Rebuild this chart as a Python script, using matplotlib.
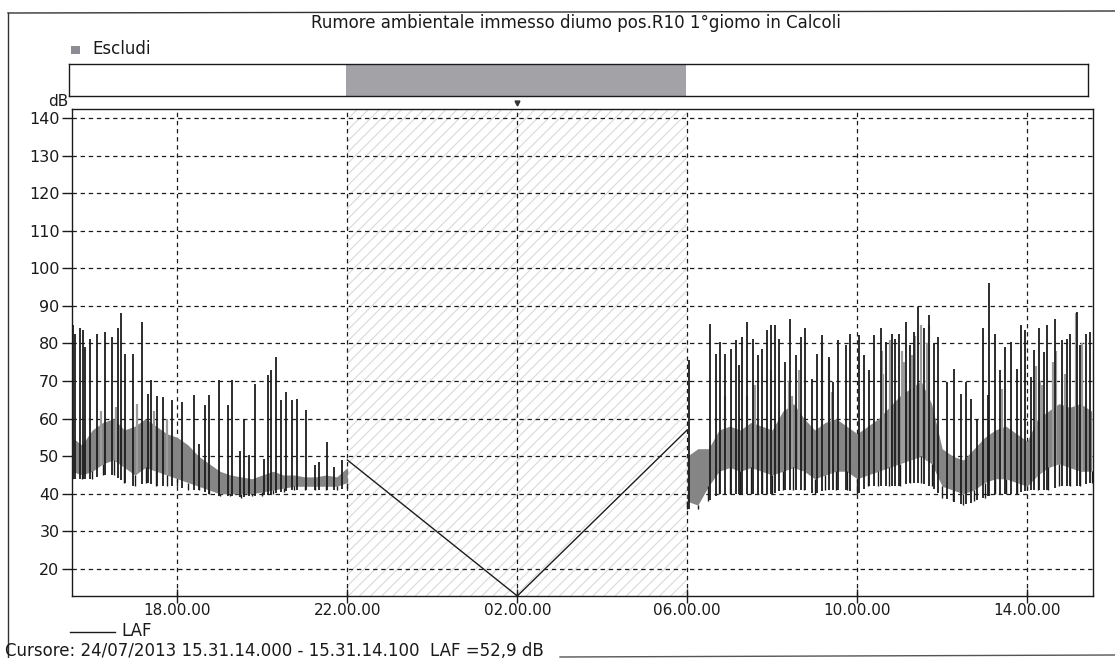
import numpy as np
import matplotlib
matplotlib.use("Agg")
import matplotlib.pyplot as plt
from matplotlib.lines import Line2D
from matplotlib.patches import Rectangle

plt.rcParams['font.family'] = ['DejaVu Sans']
plt.rcParams['hatch.linewidth'] = 0.8

# ---------------- data ----------------
title = "Rumore ambientale immesso diumo pos.R10 1°giomo in Calcoli"
xtick_pos = [18, 22, 26, 30, 34, 38]
xtick_labels = ["18.00.00", "22.00.00", "02.00.00", "06.00.00", "10.00.00", "14.00.00"]
ytick_vals = [20, 30, 40, 50, 60, 70, 80, 90, 100, 110, 120, 130, 140]
excl_start, excl_end = 22.0, 30.0

# body (dense gray band) of LAF, left part (hours)
left_t  = [15.52, 15.75, 16.0, 16.25, 16.5, 16.75, 17.0, 17.25, 17.5, 17.75, 18.0, 18.25, 18.5,
           18.75, 19.0, 19.25, 19.5, 19.75, 20.0, 20.25, 20.5, 20.75, 21.0, 21.25, 21.5, 21.75, 22.0]
left_lo = [46, 45, 46, 48, 49, 47, 45, 47, 46, 45, 44, 43, 42,
           41, 40, 40, 40, 40, 40.5, 41, 41.5, 42, 42, 42, 42, 42, 43]
left_hi = [55, 53, 57, 59, 60, 57, 58, 60, 58, 56, 55, 53, 50,
           48, 46, 45, 44.5, 44, 45, 46, 45, 45, 44.5, 44.5, 45, 44.5, 47]
left_floor = [44, 44, 44, 45, 45, 43, 42, 43, 42, 42, 42, 41, 41,
              40, 39.5, 39.5, 39, 39.5, 39.5, 40, 40.5, 41, 41, 41, 41, 41, 41.5]

right_t  = [30.0, 30.25, 30.5, 30.75, 31.0, 31.25, 31.5, 31.75, 32.0, 32.25, 32.5, 32.75, 33.0,
            33.25, 33.5, 33.75, 34.0, 34.25, 34.5, 34.75, 35.0, 35.25, 35.5, 35.75, 36.0, 36.25,
            36.5, 36.75, 37.0, 37.25, 37.5, 37.75, 38.0, 38.25, 38.5, 38.75, 39.0, 39.25, 39.52]
right_lo = [38, 37, 42, 46, 47, 46, 47, 46, 45, 46, 47, 46, 44,
            45, 46, 46, 44, 45, 46, 47, 48, 49, 50, 48, 42, 41,
            40, 41, 43, 44, 44, 43, 42, 45, 47, 48, 47, 46, 46]
right_hi = [50, 52, 52, 57, 58, 57, 59, 58, 57, 62, 64, 60, 57,
            59, 60, 58, 56, 58, 60, 63, 66, 68, 70, 64, 52, 50,
            49, 52, 55, 57, 58, 56, 54, 60, 62, 64, 63, 64, 62]
right_floor = [36, 36, 38, 40, 40, 40, 40, 40, 40, 41, 41, 41, 40,
               41, 41, 41, 40, 42, 42, 42, 42, 43, 43, 42, 39, 38,
               37, 38, 39, 40, 40, 40, 41, 41, 41, 42, 42, 42, 43]

# dark spikes (time, peak dB)
spike_t = [15.54, 15.60, 15.70, 15.78, 15.83, 15.95, 16.11, 16.29, 16.45, 16.61, 16.67, 16.76,
           16.96, 17.17, 17.30, 17.38, 17.51, 17.67, 17.87, 18.12, 18.39, 18.52, 18.64, 18.75,
           18.98, 19.18, 19.28, 19.48, 19.56, 19.68, 19.83, 20.03, 20.13, 20.21, 20.33, 20.45,
           20.56, 20.69, 20.82, 21.02, 21.23, 21.33, 21.53, 21.69, 21.88,
           30.05, 30.53, 30.67, 30.77, 30.89, 31.02, 31.14, 31.22, 31.29, 31.41, 31.55, 31.66,
           31.76, 31.88, 31.98, 32.06, 32.17, 32.30, 32.43, 32.55, 32.67, 32.78, 32.94, 33.06,
           33.18, 33.33, 33.43, 33.55, 33.73, 33.84, 34.04, 34.16, 34.27, 34.39, 34.55, 34.67,
           34.81, 34.90, 34.98, 35.14, 35.25, 35.33, 35.44, 35.57, 35.70, 35.80, 35.91, 36.12,
           36.27, 36.45, 36.55, 36.67, 36.82, 36.96, 37.08, 37.11, 37.24, 37.37, 37.49, 37.61,
           37.76, 37.86, 37.96, 38.08, 38.16, 38.27, 38.39, 38.47, 38.65, 38.81, 38.94, 39.02,
           39.18, 39.25, 39.39, 39.49]
spike_v = [84.8, 82.6, 84.0, 83.5, 79.0, 81.3, 82.6, 83.1, 81.7, 84.0, 88.0, 77.3,
           77.3, 85.7, 66.6, 70.2, 66.0, 65.8, 64.9, 64.4, 66.2, 53.3, 63.6, 66.2,
           70.2, 63.6, 70.2, 51.5, 59.9, 50.2, 69.3, 49.3, 71.5, 72.9, 76.4, 64.9,
           67.1, 64.9, 65.3, 62.2, 47.6, 48.5, 53.8, 47.2, 49.0,
           75.5, 85.3, 77.3, 80.4, 77.3, 78.6, 80.9, 74.2, 81.7, 85.7, 81.3, 76.9,
           78.6, 83.5, 84.8, 84.8, 81.3, 75.1, 86.6, 76.9, 81.7, 84.0, 70.6, 77.3,
           82.2, 76.4, 69.8, 80.9, 79.5, 82.6, 82.2, 76.9, 72.9, 82.2, 84.0, 80.4,
           82.6, 81.3, 82.6, 85.7, 79.5, 83.1, 89.7, 84.0, 87.5, 80.0, 81.7, 69.8,
           73.3, 66.6, 69.8, 65.3, 60.0, 84.0, 66.2, 96.0, 82.6, 72.9, 79.1, 80.4,
           73.3, 84.8, 83.5, 71.1, 78.2, 84.0, 77.7, 84.8, 86.6, 80.9, 81.3, 82.6,
           88.4, 79.5, 82.6, 83.1]

# lighter gray peaks inside the body
gpeak_t = [16.2, 16.55, 17.05, 17.45, 17.75, 30.9, 31.41, 31.57, 31.6, 31.96, 32.4, 32.47,
           32.63, 33.18, 33.33, 33.4, 34.59, 34.6, 34.78, 35.06, 35.1, 35.3, 35.37, 35.5,
           35.65, 35.69, 37.4, 38.2, 38.3, 38.35, 38.6, 38.67, 38.9, 39.15, 39.3]
gpeak_v = [62, 63, 64, 62, 60, 66, 66, 69, 69, 73, 70, 66,
           73, 80, 76, 67, 78, 72, 81, 78, 75, 77, 82, 85,
           80, 85, 68, 74, 70, 69, 75, 78, 72, 88, 80]

# LAF line across the excluded night period
gap_t = [22.0, 26.0, 30.0]
gap_v = [49.0, 12.8, 57.0]

legend_label = "LAF"
cursor_text = "Cursore: 24/07/2013 15.31.14.000 - 15.31.14.100  LAF =52,9 dB"
excl_label = "Escludi"

# ---------------- figure ----------------
W, H = 1115, 658
fig = plt.figure(figsize=(W / 100, H / 100), dpi=100)
fig.patch.set_facecolor('white')

def box(x0, y0, x1, y1):
    return [x0 / W, 1 - y1 / H, (x1 - x0) / W, (y1 - y0) / H]

TXT = '#1a1a1a'
XMIN, XMAX = 15.52, 39.55
ax = fig.add_axes(box(72, 109, 1093, 596))
ax.set_xlim(XMIN, XMAX)
ax.set_ylim(12.8, 142.4)

# hatched exclusion region
ax.axvspan(excl_start, excl_end, facecolor='none', edgecolor='#d9d9d9', hatch='///',
           linewidth=0, zorder=0)

# grid
for yv in ytick_vals:
    ax.axhline(yv, color=TXT, lw=0.9, ls=(0, (3.5, 3)), zorder=1)
for xv in xtick_pos:
    ax.axvline(xv, color=TXT, lw=0.9, ls=(0, (3.5, 3)), zorder=1)

line_dark = '#1c1c1c'
body_col = '#858585'

# body
for tt, lo, hi in ((left_t, left_lo, left_hi), (right_t, right_lo, right_hi)):
    ax.fill_between(tt, lo, hi, color=body_col, lw=0, zorder=3)

def seg_interp(t, left_arr, right_arr):
    if t <= 22.0:
        return np.interp(t, left_t, left_arr)
    return np.interp(t, right_t, right_arr)

# gray peaks
ax.vlines(gpeak_t, [seg_interp(t, left_lo, right_lo) for t in gpeak_t], gpeak_v,
          color='#9c9c9c', lw=1.6, zorder=3)
# spikes (from floor to peak)
ax.vlines(spike_t, [seg_interp(t, left_floor, right_floor) for t in spike_t], spike_v,
          color=line_dark, lw=1.3, zorder=4)
# floor dips along the body
for tt, fl, lo in ((left_t, left_floor, left_lo), (right_t, right_floor, right_lo)):
    ax.vlines(tt, fl, lo, color=line_dark, lw=1.0, zorder=4)

# gap line
ax.plot(gap_t, gap_v, color=line_dark, lw=1.0, zorder=4)

# axes styling
for s in ax.spines.values():
    s.set_color(TXT)
    s.set_linewidth(1.0)
ax.set_yticks(ytick_vals)
ax.set_yticklabels([str(v) for v in ytick_vals], fontsize=11.5)
ax.set_xticks(xtick_pos)
ax.set_xticklabels(xtick_labels, fontsize=11)
ax.tick_params(axis='y', direction='out', length=7, width=1, pad=2, colors=TXT)
ax.tick_params(axis='x', direction='inout', length=10, width=1, pad=0, colors=TXT)

fig.text(58 / W, 1 - 101 / H, "dB", fontsize=11, ha='center', va='center', color=TXT)

# marker above plot at 02:00
ax.plot([26], [1.012], marker='v', ms=3.5, color='#333333',
        transform=ax.get_xaxis_transform(), clip_on=False)

# exclusion bar
bx = fig.add_axes(box(69, 64, 1088, 96))
bl = 22 - (346 - 69) / 42.5
br = 22 + (1088 - 346) / 42.5
bx.set_xlim(bl, br)
bx.set_ylim(0, 1)
bx.axvspan(excl_start, excl_end, color='#a3a3a7', lw=0)
bx.set_xticks([]); bx.set_yticks([])
for s in bx.spines.values():
    s.set_color(TXT); s.set_linewidth(1.0)

# legend for exclusion
fig.patches.append(Rectangle((71 / W, 1 - 54 / H), 9 / W, 8 / H, transform=fig.transFigure,
                             facecolor='#8c8c94', edgecolor='none'))
fig.text(92 / W, 1 - 49 / H, excl_label, fontsize=12, ha='left', va='center', color=TXT)

# title
fig.text(576 / W, 1 - 23 / H, title, fontsize=12, ha='center', va='center', color=TXT)

# LAF legend
fig.lines.append(Line2D([70 / W, 115 / W], [1 - 632 / H, 1 - 632 / H], transform=fig.transFigure,
                        color=line_dark, lw=1.0))
fig.text(121 / W, 1 - 631 / H, legend_label, fontsize=12, ha='left', va='center', color=TXT)
fig.text(5 / W, 1 - 651 / H, cursor_text, fontsize=12, ha='left', va='center', color=TXT)

# outer frame
fig.lines.append(Line2D([8 / W, 1], [1 - 13 / H, 1 - 11 / H], transform=fig.transFigure,
                        color='#333333', lw=1.0))
fig.lines.append(Line2D([8 / W, 8 / W], [1 - 13 / H, 0], transform=fig.transFigure,
                        color='#333333', lw=1.0))
fig.lines.append(Line2D([560 / W, 1], [1 - 657 / H, 1 - 655 / H], transform=fig.transFigure,
                        color='#555555', lw=1.0))

fig.savefig("out.png", dpi=100, facecolor='white')
